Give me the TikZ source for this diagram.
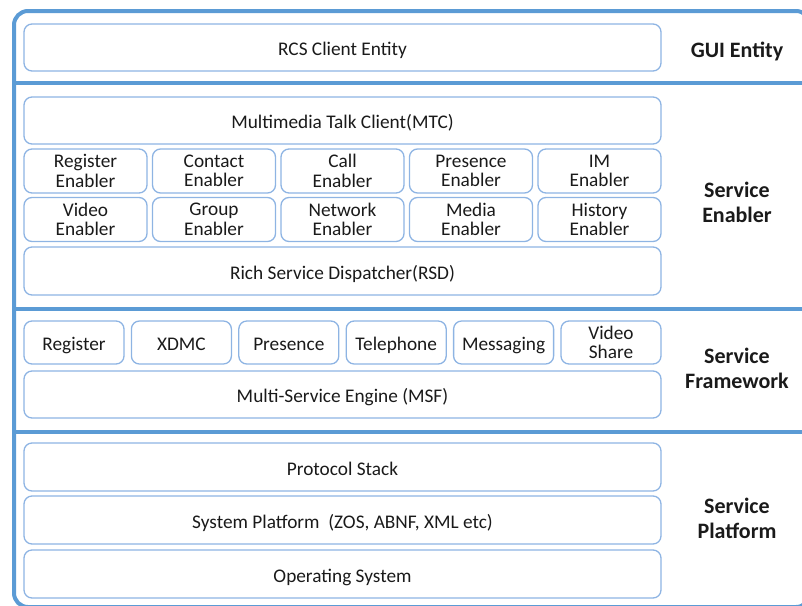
\documentclass[tikz,border=0pt]{standalone}
\usepackage{fontspec}
\setmainfont{Carlito}
\definecolor{framec}{HTML}{5B9BD5}
\definecolor{boxc}{HTML}{8EB4E3}
\definecolor{txt}{HTML}{1A1A1A}
\tikzset{
  box/.style={draw=boxc, line width=1.3pt, rounded corners=8pt, inner sep=0pt,
    align=center, text=txt, font=\fontsize{19.3}{19.5}\selectfont, anchor=center},
  one/.style={text height=16pt, text depth=0pt},
  wide/.style={box, one, minimum width=637pt},
  enab/.style={box, minimum width=123pt, minimum height=44pt},
  fw/.style={box, minimum width=100pt, minimum height=43pt},
  fwone/.style={fw, one},
  layer/.style={align=center, text=txt, font=\bfseries\fontsize{22}{25}\selectfont, inner sep=0pt},
  frameline/.style={draw=framec, line width=4pt}
}
\begin{document}
\begin{tikzpicture}[x=1pt,y=-1pt]
\useasboundingbox (0,0) rectangle (802,605);
\clip (0,0) rectangle (802,605);
% outer frame
\draw[frameline, rounded corners=14pt] (14,11) rectangle (810,607);
\coordinate (s1l) at (14,83);  \coordinate (s1r) at (810,83);
\coordinate (s2l) at (14,309); \coordinate (s2r) at (810,309);
\coordinate (s3l) at (14,432); \coordinate (s3r) at (810,432);
\draw[frameline] (s1l) -- (s1r);
\draw[frameline] (s2l) -- (s2r);
\draw[frameline] (s3l) -- (s3r);
% GUI entity
\node[wide, minimum height=47pt] (rcs) at (342.5,47.5) {RCS Client Entity};
\node[layer] (gui) at (737,51) {GUI Entity};
% Service enabler
\node[wide, minimum height=47pt] (mtc) at (342.5,120.5) {Multimedia Talk Client(MTC)};
\node[enab] (e11) at (85.5,171) {Register\\Enabler};
\node[enab] (e12) at (214,171) {Contact\\Enabler};
\node[enab] (e13) at (342.5,171) {Call\\Enabler};
\node[enab] (e14) at (471,171) {Presence\\Enabler};
\node[enab] (e15) at (599.5,171) {IM\\Enabler};
\node[enab] (e21) at (85.5,219.5) {Video\\Enabler};
\node[enab] (e22) at (214,219.5) {Group\\Enabler};
\node[enab] (e23) at (342.5,219.5) {Network\\Enabler};
\node[enab] (e24) at (471,219.5) {Media\\Enabler};
\node[enab] (e25) at (599.5,219.5) {History\\Enabler};
\node[wide, minimum height=48pt] (rsd) at (342.5,271) {Rich Service Dispatcher(RSD)};
\node[layer] (sen) at (737,202) {Service\\Enabler};
% Service framework
\node[fwone] (f1) at (74,342.5) {Register};
\node[fwone] (f2) at (181.4,342.5) {XDMC};
\node[fwone] (f3) at (288.8,342.5) {Presence};
\node[fwone] (f4) at (396.2,342.5) {Telephone};
\node[fwone] (f5) at (503.6,342.5) {Messaging};
\node[fw] (f6) at (611,342.5) {Video\\Share};
\node[wide, minimum height=47pt] (msf) at (342.5,394.5) {Multi-Service Engine (MSF)};
\node[layer] (sfw) at (737,368) {Service\\Framework};
% Service platform
\node[wide, minimum height=48pt] (ps) at (342.5,467) {Protocol Stack};
\node[wide, minimum height=48pt] (sp) at (342.5,520) {System Platform~~(ZOS, ABNF, XML etc)};
\node[wide, minimum height=48pt] (os) at (342.5,574) {Operating System};
\node[layer] (spl) at (737,518) {Service\\Platform};
\end{tikzpicture}
\end{document}
